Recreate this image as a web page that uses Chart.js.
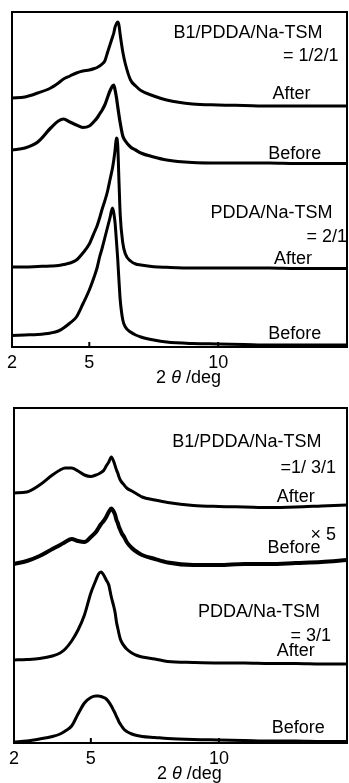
<!DOCTYPE html>
<html>
<head>
<meta charset="utf-8">
<script src="https://cdn.jsdelivr.net/npm/chart.js@4/dist/chart.umd.min.js"></script>
<style>
  html, body { margin: 0; padding: 0; background: #fff; width: 349px; height: 783px; overflow: hidden; }
  canvas { position: absolute; left: 0; }
  #top { top: 0; }
  #bottom { top: 396px; }
</style>
</head>
<body>
<canvas id="top" width="349" height="389"></canvas>
<canvas id="bottom" width="349" height="387"></canvas>
<script>
// 2θ grid (deg) shared by all eight patterns
const TWO_THETA = [2, 2.5, 3, 3.5, 3.8, 4, 4.25, 4.5, 4.75, 5, 5.2, 5.3, 5.4, 5.5, 5.6, 5.7, 5.8, 5.9, 5.95, 6,
  6.05, 6.1, 6.15, 6.2, 6.3, 6.4, 6.6, 6.8, 7, 7.5, 8, 9, 10, 11, 12, 13, 14, 15];
const X_TICKS = [2, 5, 10];

// intensity (a.u., stacked) — upper figure
const B1_121_AFTER = [249, 250, 254, 259, 264, 268, 271, 274, 276, 277, 278.5, 279.5, 281, 283, 286, 294, 302, 310, 314, 320,
  323, 325, 322, 312, 295, 283, 267, 261, 256.5, 251, 247, 243, 242, 241.5, 241, 241, 241, 241];
const B1_121_BEFORE = [197, 199, 205, 219, 226, 228, 225, 222, 219.5, 221, 226, 229, 233, 237, 242, 249, 256, 261, 262, 257,
  250, 241, 232, 224, 211, 206, 200, 197, 194, 190, 187, 184.5, 184, 184, 184, 183.5, 183.5, 183.5];
const PDDA_21_AFTER = [80, 80, 80.5, 81, 81.5, 82.5, 84, 87, 94, 103, 115, 121, 129, 138, 146, 155, 167, 179, 187, 197,
  209, 203, 167, 132, 104, 93, 86, 83, 82, 80.3, 79.7, 79, 79, 79, 79, 78.5, 78.5, 78.5];
const PDDA_21_BEFORE = [11.5, 12, 12.5, 14, 16, 19, 24, 30, 43, 57, 71, 79, 90, 99, 109, 119, 129, 139, 134, 124,
  107, 89, 67, 47, 27, 20, 15, 12, 10, 7, 5, 3.5, 3, 2.5, 2, 2, 2, 2];

// intensity (a.u., stacked) — lower figure
const B1_131_AFTER = [250, 251, 258, 268, 273, 275, 275, 272, 268, 266.5, 268, 269, 270.5, 272.5, 277, 281, 286, 281, 277, 273,
  270, 266, 263, 261, 258, 255, 252, 249, 246, 243, 240.5, 237.5, 236.5, 236, 235.5, 236, 237, 238];
const B1_131_BEFORE_X5 = [179, 182, 187, 194, 198, 201, 204, 202, 201, 206, 211, 215, 219, 222, 226, 231, 234.5, 231, 228, 223,
  220, 216, 213, 210, 206, 201, 195, 191, 188, 184, 180.5, 178, 178, 179, 179, 180, 181, 183];
const PDDA_31_AFTER = [83, 83.5, 84.5, 87, 90, 94, 102, 113, 128, 150, 163, 169, 171, 168, 163, 158, 146, 136, 130, 121,
  115, 109, 104, 101, 97, 94, 90, 87.5, 86, 84, 81.5, 80.5, 80, 80, 79.5, 79.5, 79, 79];
const PDDA_31_BEFORE = [1, 2, 4, 6.5, 9, 12, 17, 29, 40, 45.5, 47, 47, 46.5, 45.5, 44, 41, 37, 32, 29.5, 26.5,
  24, 21, 19, 17, 13.5, 11.5, 9, 7.5, 6.5, 5.5, 4.5, 3.5, 3, 2.5, 2, 2, 1.5, 1.5];

const FONT = '"Liberation Sans", Arial, sans-serif';

// frame, inward ticks, trace labels and the "2θ /deg" axis title
const xrdDecor = {
  id: 'xrdDecor',
  afterDatasetsDraw(chart, args, opts) {
    const {ctx, chartArea: a, scales: {x, y}} = chart;
    ctx.save();
    ctx.strokeStyle = '#000';
    ctx.lineWidth = 2;
    ctx.strokeRect(a.left, a.top, a.right - a.left, a.bottom - a.top);
    ctx.beginPath();
    X_TICKS.forEach(v => {
      const px = x.getPixelForValue(v);
      ctx.moveTo(px, a.bottom);
      ctx.lineTo(px, a.bottom - 5);
    });
    ctx.stroke();

    ctx.fillStyle = '#000';
    ctx.textBaseline = 'middle';
    ctx.font = '18px ' + FONT;
    opts.labels.forEach(l => {
      ctx.textAlign = l.align || 'center';
      ctx.fillText(l.text, x.getPixelForValue(l.x), y.getPixelForValue(l.y));
    });

    // axis title with italic theta
    const parts = [['2 ', '18px ' + FONT], ['θ', 'italic 18px ' + FONT], [' /deg', '18px ' + FONT]];
    let w = 0;
    parts.forEach(p => { ctx.font = p[1]; w += ctx.measureText(p[0]).width; });
    let tx = x.getPixelForValue(8.85) - w / 2;
    const ty = a.bottom + 31;
    ctx.textAlign = 'left';
    parts.forEach(p => { ctx.font = p[1]; ctx.fillText(p[0], tx, ty); tx += ctx.measureText(p[0]).width; });
    ctx.restore();
  }
};

function makeChart(id, series, labels, padLeft, axisHeight) {
  return new Chart(document.getElementById(id), {
    type: 'line',
    data: {
      datasets: series.map(s => ({
        data: TWO_THETA.map((t, i) => ({x: t, y: s.values[i]})),
        borderColor: '#000',
        borderWidth: s.width,
        pointRadius: 0,
        cubicInterpolationMode: 'monotone',
        fill: false
      }))
    },
    options: {
      responsive: false,
      animation: false,
      layout: {padding: {top: 12, left: padLeft, right: 2, bottom: 0}},
      plugins: {
        legend: {display: false},
        tooltip: {enabled: false},
        xrdDecor: {labels}
      },
      scales: {
        x: {
          type: 'linear',
          min: 2,
          max: 15,
          afterBuildTicks: s => { s.ticks = X_TICKS.map(v => ({value: v})); },
          afterFit: s => { s.height = axisHeight; },
          grid: {display: false, drawTicks: false},
          border: {display: false},
          ticks: {padding: 5, color: '#000', autoSkip: false, maxRotation: 0, font: {family: FONT, size: 18}}
        },
        y: {display: false, min: 0, max: 335}
      }
    },
    plugins: [xrdDecor]
  });
}

makeChart('top', [
  {values: B1_121_AFTER, width: 3},
  {values: B1_121_BEFORE, width: 3.2},
  {values: PDDA_21_AFTER, width: 3},
  {values: PDDA_21_BEFORE, width: 3}
], [
  {text: 'B1/PDDA/Na-TSM', x: 14.05, y: 314, align: 'right'},
  {text: '= 1/2/1', x: 14.67, y: 291, align: 'right'},
  {text: 'After', x: 12.85, y: 253},
  {text: 'Before', x: 12.97, y: 193},
  {text: 'PDDA/Na-TSM', x: 14.44, y: 134, align: 'right'},
  {text: '= 2/1', x: 15, y: 110, align: 'right'},
  {text: 'After', x: 12.9, y: 88},
  {text: 'Before', x: 12.97, y: 13}
], 12, 42);

makeChart('bottom', [
  {values: B1_131_AFTER, width: 3},
  {values: B1_131_BEFORE_X5, width: 4},
  {values: PDDA_31_AFTER, width: 3},
  {values: PDDA_31_BEFORE, width: 3}
], [
  {text: 'B1/PDDA/Na-TSM', x: 14.0, y: 301, align: 'right'},
  {text: '=1/ 3/1', x: 14.57, y: 275, align: 'right'},
  {text: 'After', x: 13.0, y: 245.5},
  {text: '× 5', x: 14.57, y: 208, align: 'right'},
  {text: 'Before', x: 12.93, y: 195},
  {text: 'PDDA/Na-TSM', x: 13.95, y: 131, align: 'right'},
  {text: '= 3/1', x: 14.38, y: 107, align: 'right'},
  {text: 'After', x: 13.0, y: 91.5},
  {text: 'Before', x: 13.1, y: 15}
], 14, 40);
</script>
</body>
</html>
